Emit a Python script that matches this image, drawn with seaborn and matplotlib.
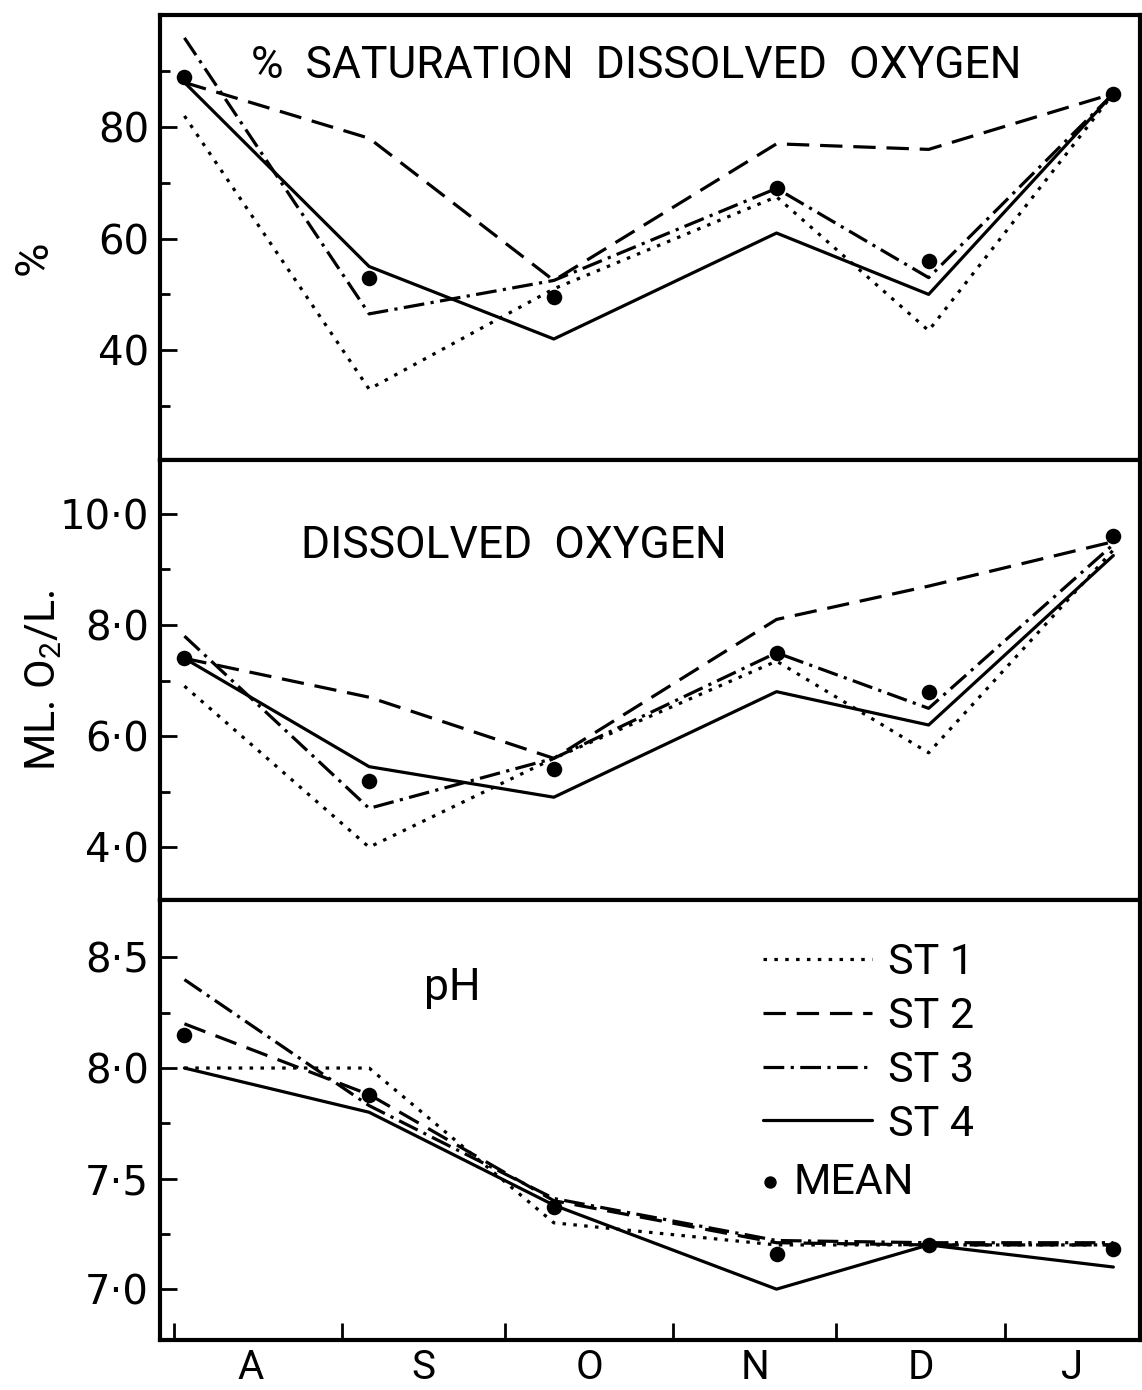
import numpy as np
import pandas as pd
import matplotlib
matplotlib.use("Agg")
import matplotlib.pyplot as plt
import seaborn as sns

sns.set_theme(style="white")
plt.rcParams["font.family"] = ["Roboto", "DejaVu Sans"]
plt.rcParams["mathtext.fontset"] = "custom"
plt.rcParams["mathtext.rm"] = "Roboto"
plt.rcParams["mathtext.default"] = "regular"

# ---- data -------------------------------------------------------------
months = ["A", "S", "O", "N", "D", "J"]
month_start = [0, 31, 61, 92, 122, 153]          # days after 1 August
sample_day = [2, 36, 70, 111, 139, 173]          # sampling dates
stations = ["ST 1", "ST 2", "ST 3", "ST 4"]

# % saturation dissolved oxygen
sat_st1 = [82, 33, 51, 67.5, 43.5, 86]
sat_st2 = [88, 78, 52.5, 77, 76, 86]
sat_st3 = [96, 46.5, 52.5, 69, 53, 86]
sat_st4 = [88, 55, 42, 61, 50, 86]
sat_mean = [89, 53, 49.5, 69, 56, 86]

# dissolved oxygen, ml O2 / l
do_st1 = [6.9, 4.0, 5.6, 7.35, 5.7, 9.35]
do_st2 = [7.4, 6.7, 5.6, 8.1, 8.7, 9.5]
do_st3 = [7.8, 4.7, 5.6, 7.5, 6.5, 9.45]
do_st4 = [7.4, 5.45, 4.9, 6.8, 6.2, 9.25]
do_mean = [7.4, 5.2, 5.4, 7.5, 6.8, 9.6]

# pH
ph_st1 = [8.0, 8.0, 7.3, 7.2, 7.2, 7.2]
ph_st2 = [8.2, 7.88, 7.4, 7.21, 7.2, 7.2]
ph_st3 = [8.4, 7.83, 7.41, 7.22, 7.21, 7.21]
ph_st4 = [8.0, 7.8, 7.38, 7.0, 7.2, 7.1]
ph_mean = [8.15, 7.88, 7.37, 7.16, 7.2, 7.18]

dash_map = {"ST 1": (1.1, 2.3), "ST 2": (7, 3.4), "ST 3": (6.5, 2, 1, 2), "ST 4": ""}


def long_frame(*series):
    return pd.DataFrame({
        "day": sample_day * len(series),
        "value": np.concatenate(series),
        "station": np.repeat(stations, len(sample_day)),
    })


def fmt(v, dec):
    return f"{v:.{dec}f}".replace(".", "\u00b7")


panels = [
    dict(df=long_frame(sat_st1, sat_st2, sat_st3, sat_st4), mean=sat_mean,
         ylim=(20.3, 100.1), major=[40, 60, 80], minor=[30, 50, 70, 90], dec=0,
         rect=[0.1401, 1 - 460 / 1390, 0.8581, 445 / 1390]),
    dict(df=long_frame(do_st1, do_st2, do_st3, do_st4), mean=do_mean,
         ylim=(3.05, 10.97), major=[4, 6, 8, 10], minor=[5, 7, 9], dec=1,
         rect=[0.1401, 1 - 900 / 1390, 0.8581, 440 / 1390]),
    dict(df=long_frame(ph_st1, ph_st2, ph_st3, ph_st4), mean=ph_mean,
         ylim=(6.77, 8.76), major=[7.0, 7.5, 8.0, 8.5], minor=[7.25, 7.75, 8.25], dec=1,
         rect=[0.1401, 1 - 1340 / 1390, 0.8581, 440 / 1390]),
]

fig = plt.figure(figsize=(11.42, 13.9), dpi=100)
fig.patch.set_facecolor("white")
xlim = (-2.5, 177.9)
axes = []
for p in panels:
    ax = fig.add_axes(p["rect"])
    sns.lineplot(data=p["df"], x="day", y="value", style="station",
                 style_order=stations, dashes=dash_map, color="black",
                 linewidth=2.3, errorbar=None, legend=False, ax=ax)
    sns.scatterplot(x=sample_day, y=p["mean"], color="black", s=125,
                    linewidth=0, ax=ax, zorder=5)
    ax.set_xlim(*xlim)
    ax.set_ylim(*p["ylim"])
    ax.set_yticks(p["major"], labels=[fmt(v, p["dec"]) for v in p["major"]],
                  fontfamily="DejaVu Sans", fontsize=29)
    ax.set_yticks(p["minor"], minor=True)
    ax.tick_params(axis="y", which="both", direction="in", width=2,
                   color="black", pad=8, left=True, labelcolor="black")
    ax.tick_params(axis="y", which="major", length=12)
    ax.tick_params(axis="y", which="minor", length=7)
    ax.set_xlabel("")
    ax.set_ylabel("")
    for s in ax.spines.values():
        s.set_visible(True)
        s.set_linewidth(3)
        s.set_color("black")
    ax.set_facecolor("white")
    axes.append(ax)

ax_sat, ax_do, ax_ph = axes
for ax in (ax_sat, ax_do):
    ax.set_xticks([])

# month boundaries as inward ticks, month initials centred between them
ax_ph.set_xticks(month_start, labels=[""] * len(month_start))
edges = [xlim[0]] + month_start[1:] + [xlim[1]]
mids = [(edges[i] + edges[i + 1]) / 2 for i in range(len(months))]
ax_ph.set_xticks(mids, labels=months, minor=True, fontsize=29)
ax_ph.tick_params(axis="x", which="major", direction="in", length=12, width=2,
                  color="black", bottom=True)
ax_ph.tick_params(axis="x", which="minor", length=0, pad=6, labelcolor="black")

# panel titles
ax_sat.text(0.486, 0.858, "%  SATURATION  DISSOLVED  OXYGEN", transform=ax_sat.transAxes,
            ha="center", va="baseline", fontsize=32, color="black")
ax_do.text(0.361, 0.777, "DISSOLVED  OXYGEN", transform=ax_do.transAxes,
           ha="center", va="baseline", fontsize=32, color="black")
ax_ph.text(0.298, 0.773, "pH", transform=ax_ph.transAxes,
           ha="center", va="baseline", fontsize=32, color="black")

# axis titles
ax_sat.set_ylabel("%", fontsize=34, color="black")
ax_sat.yaxis.set_label_coords(-0.106, 0.454)
ax_do.set_ylabel("ML. O$_2$/L.", fontsize=31, color="black")
ax_do.yaxis.set_label_coords(-0.098, 0.5)

# legend: station line styles, then the mean marker on its own row
handles = ax_ph.lines[:4]
leg1 = ax_ph.legend(handles, stations, loc="upper left", bbox_to_anchor=(0.615, 0.905),
                    frameon=False, fontsize=31, handlelength=2.55, handletextpad=0.35,
                    labelspacing=0.3, borderpad=0, borderaxespad=0, labelcolor="black")
ax_ph.add_artist(leg1)
mean_handle = ax_ph.collections[0]
ax_ph.legend([mean_handle], ["MEAN"], loc="upper left", bbox_to_anchor=(0.611, 0.405),
             frameon=False, fontsize=31, handlelength=0.5, handletextpad=0.3,
             markerscale=0.8, scatterpoints=1, borderpad=0, borderaxespad=0,
             labelcolor="black")

fig.savefig("out.png", dpi=100, facecolor="white")
